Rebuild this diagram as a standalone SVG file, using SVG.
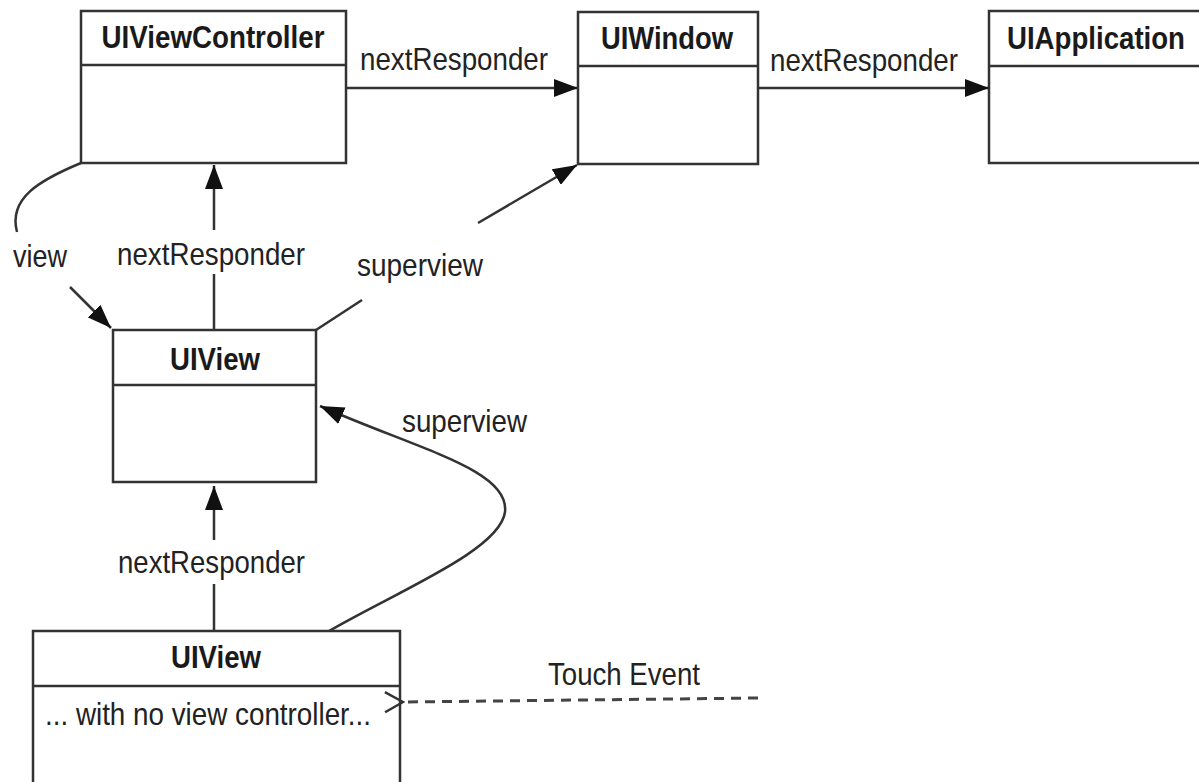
<svg xmlns="http://www.w3.org/2000/svg" width="1199" height="782" viewBox="0 0 1199 782">
<defs>
<style>
.box{fill:#fff;stroke:#333;stroke-width:2.5}
.ln{fill:none;stroke:#333;stroke-width:2.5}
.title{font-family:"Liberation Sans",Arial,sans-serif;font-weight:bold;font-size:31px;fill:#1a1a1a;text-anchor:middle}
.lbl{font-family:"Liberation Sans",Arial,sans-serif;font-size:32px;fill:#222}
.dash{fill:none;stroke:#444;stroke-width:3;stroke-dasharray:10 7}
</style>
<marker id="arr" viewBox="0 0 24 18" refX="24" refY="9" markerWidth="24" markerHeight="18" markerUnits="userSpaceOnUse" orient="auto">
<path d="M0,0 L24,9 L0,18 Z" fill="#111"/>
</marker>
<marker id="open" viewBox="0 0 22 24" refX="1" refY="12" markerWidth="22" markerHeight="24" markerUnits="userSpaceOnUse" orient="auto">
<path d="M20,2 L2,12 L20,22" fill="none" stroke="#333" stroke-width="2.5"/>
</marker>
</defs>
<rect width="1199" height="782" fill="#fff"/>

<g id="uiviewcontroller">
<rect class="box" x="81" y="11" width="265" height="152"/>
<line class="ln" x1="81" y1="65" x2="346" y2="65"/>
<text class="title" x="213" y="48" textLength="223" lengthAdjust="spacingAndGlyphs">UIViewController</text>
</g>
<g id="uiwindow">
<rect class="box" x="578" y="12" width="180" height="152"/>
<line class="ln" x1="578" y1="66" x2="758" y2="66"/>
<text class="title" x="667" y="49" textLength="132" lengthAdjust="spacingAndGlyphs">UIWindow</text>
</g>
<g id="uiapplication">
<rect class="box" x="989" y="11" width="230" height="152"/>
<line class="ln" x1="989" y1="66" x2="1219" y2="66"/>
<text class="title" x="1096" y="49" textLength="178" lengthAdjust="spacingAndGlyphs">UIApplication</text>
</g>
<g id="uiview">
<rect class="box" x="113" y="330" width="203" height="152"/>
<line class="ln" x1="113" y1="385" x2="316" y2="385"/>
<text class="title" x="215" y="370" textLength="90" lengthAdjust="spacingAndGlyphs">UIView</text>
</g>
<g id="uiview-leaf">
<rect class="box" x="33" y="631" width="367" height="170"/>
<line class="ln" x1="33" y1="686" x2="400" y2="686"/>
<text class="title" x="216" y="668" textLength="90" lengthAdjust="spacingAndGlyphs">UIView</text>
<text class="lbl" x="45" y="725" textLength="326" lengthAdjust="spacingAndGlyphs">... with no view controller...</text>
</g>

<g id="connectors">
<line class="ln" x1="346" y1="88" x2="578" y2="88" marker-end="url(#arr)"/>
<text class="lbl" x="360" y="70" textLength="188" lengthAdjust="spacingAndGlyphs">nextResponder</text>
<line class="ln" x1="758" y1="88" x2="989" y2="88" marker-end="url(#arr)"/>
<text class="lbl" x="770" y="71" textLength="188" lengthAdjust="spacingAndGlyphs">nextResponder</text>

<path class="ln" d="M81,163 C40,180 8,198 17,232"/>
<text class="lbl" x="13" y="267" textLength="54" lengthAdjust="spacingAndGlyphs">view</text>
<line class="ln" x1="70" y1="287" x2="111" y2="328" marker-end="url(#arr)"/>

<line class="ln" x1="214" y1="330" x2="214" y2="274"/>
<text class="lbl" x="117" y="265" textLength="188" lengthAdjust="spacingAndGlyphs">nextResponder</text>
<line class="ln" x1="214" y1="230" x2="214" y2="165" marker-end="url(#arr)"/>

<line class="ln" x1="316" y1="330" x2="362" y2="300"/>
<text class="lbl" x="357" y="276" textLength="126" lengthAdjust="spacingAndGlyphs">superview</text>
<line class="ln" x1="478" y1="223" x2="577" y2="165" marker-end="url(#arr)"/>

<line class="ln" x1="214" y1="631" x2="214" y2="584"/>
<text class="lbl" x="118" y="573" textLength="187" lengthAdjust="spacingAndGlyphs">nextResponder</text>
<line class="ln" x1="214" y1="540" x2="214" y2="486" marker-end="url(#arr)"/>

<path class="ln" d="M329,631 C400,590 500,550 505,512 C510,470 420,450 320,406" marker-end="url(#arr)"/>
<text class="lbl" x="402" y="432" textLength="125" lengthAdjust="spacingAndGlyphs">superview</text>

<line class="dash" x1="758" y1="698" x2="404" y2="702" marker-end="url(#open)"/>
<text class="lbl" x="548" y="685" textLength="152" lengthAdjust="spacingAndGlyphs">Touch Event</text>
</g>
</svg>
